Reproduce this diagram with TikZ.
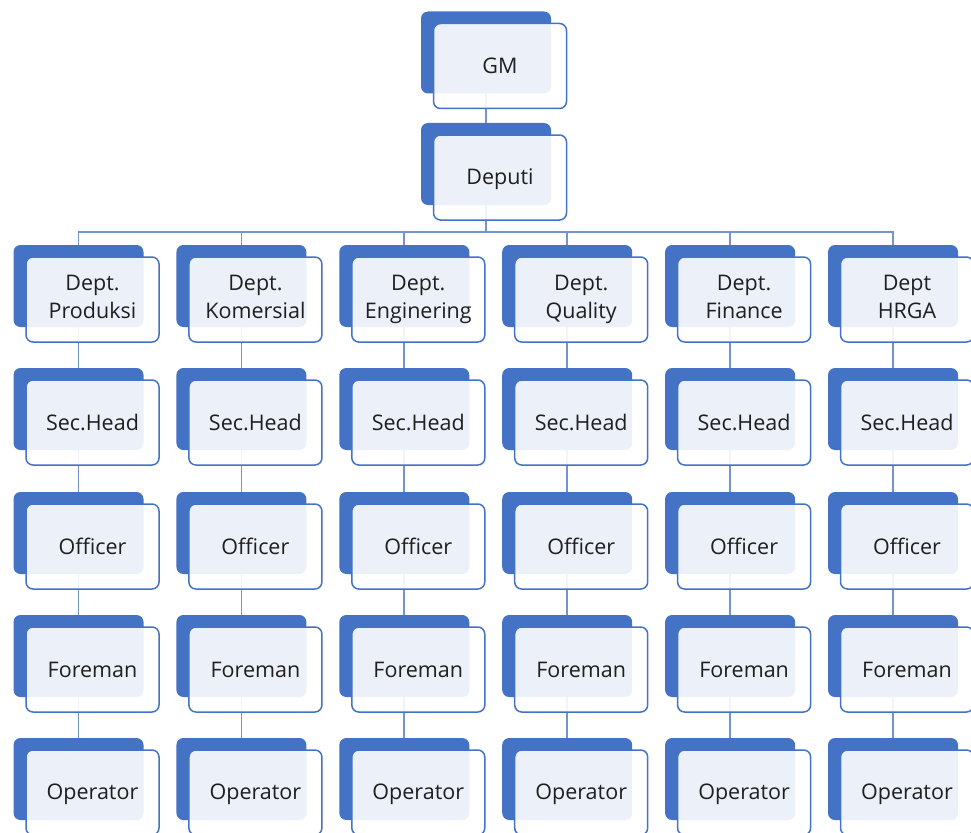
\documentclass[tikz,border=0pt]{standalone}
\usepackage{fontspec}
\setmainfont{Open Sans}
\usepackage{tikz}
\usetikzlibrary{positioning}
\definecolor{accent}{HTML}{4472C4}
\definecolor{linkblue}{HTML}{7493D2}
\newcommand{\boxstrut}{\rule[-5pt]{0pt}{25pt}}
\tikzset{
	backbox/.style={
		rectangle, rounded corners=7pt, fill=accent,
		minimum width=130pt, minimum height=82pt, inner sep=0pt
	},
	frontbox/.style={
		rectangle, rounded corners=7pt, draw=accent, line width=1.5pt,
		fill=white, fill opacity=0.9, text opacity=1,
		minimum width=133pt, minimum height=85pt, inner sep=2pt,
		align=center, text=black!88,
		font=\fontsize{21.5}{28}\selectfont,
		execute at end node=\boxstrut
	},
	link/.style={linkblue, line width=1.8pt}
}
\begin{document}
\begin{tikzpicture}[x=1pt, y=-1pt]
	\useasboundingbox (0,0) rectangle (971,832);
	\clip (0,0) rectangle (971,832);
	% back boxes
	\node[backbox] (gm)  at (486,52.5) {};
	\node[backbox] (dep) at (486,164)  {};
	\foreach \c/\x in {1/78.5,2/241.4,3/404.3,4/567.2,5/730.1,6/893}{
		\node[backbox] (d\c) at (\x,286) {};
		\node[backbox] (s\c) at (\x,409) {};
		\node[backbox] (o\c) at (\x,533) {};
		\node[backbox] (f\c) at (\x,656) {};
		\node[backbox] (p\c) at (\x,779) {};
	}
	% connectors
	\draw[link] (gm.south) -- (dep.north);
	\foreach \c in {1,...,6}{
		\draw[link] (dep.south) -- ++(0,27) -| (d\c.north);
		\draw[link] (d\c.south) -- (s\c.north);
		\draw[link] (s\c.south) -- (o\c.north);
		\draw[link] (o\c.south) -- (f\c.north);
		\draw[link] (f\c.south) -- (p\c.north);
	}
	% front boxes
	\node[frontbox] (gm-t)  at ([shift={(14,13.5)}]gm)  {GM};
	\node[frontbox] (dep-t) at ([shift={(14,13.5)}]dep) {Deputi};
	\foreach \c/\t in {1/{Dept.\\Produksi},2/{Dept.\\Komersial},3/{Dept.\\Enginering},
			4/{Dept.\\Quality},5/{Dept.\\Finance},6/{Dept\\HRGA}}{
		\node[frontbox] (d\c-t) at ([shift={(14,13.5)}]d\c) {\t};
		\node[frontbox] (s\c-t) at ([shift={(14,13.5)}]s\c) {Sec.Head};
		\node[frontbox] (o\c-t) at ([shift={(14,13.5)}]o\c) {Officer};
		\node[frontbox] (f\c-t) at ([shift={(14,13.5)}]f\c) {Foreman};
		\node[frontbox] (p\c-t) at ([shift={(14,13.5)}]p\c) {Operator};
	}
\end{tikzpicture}
\end{document}
